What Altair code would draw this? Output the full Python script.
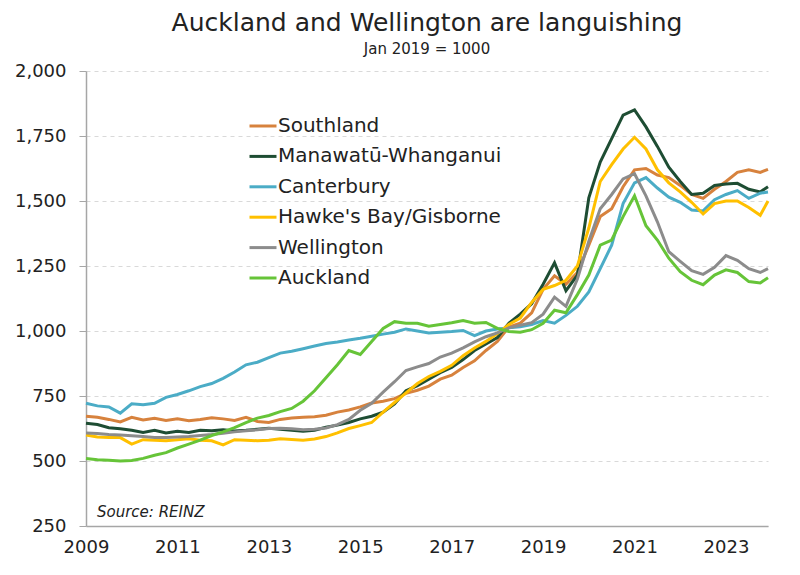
import altair as alt
import pandas as pd

# x positions (decimal years on the chart's axis), quarterly
t = [2009 + 0.25 * i for i in range(60)] + [2023.92]

southland = [672, 668, 660, 650, 668, 658, 664, 656, 662, 655, 660, 666, 662, 656, 668, 652,
             648, 660, 665, 668, 670, 676, 688, 696, 708, 723, 730, 740, 760, 772, 788, 815,
             830, 860, 885, 925, 960, 1015, 1030, 1070, 1160, 1212, 1180, 1225, 1330, 1440, 1470, 1555,
             1620, 1625, 1600, 1590, 1560, 1525, 1510, 1545, 1575, 1610, 1620, 1610, 1622]
manawatu = [645, 640, 628, 624, 618, 610, 618, 608, 614, 610, 618, 616, 620, 615, 618, 622,
            626, 622, 618, 614, 618, 630, 638, 648, 662, 672, 688, 720, 770, 790, 815, 840,
            860, 890, 925, 950, 975, 1030, 1065, 1105, 1180, 1262, 1155, 1215, 1512, 1650, 1740, 1830,
            1850, 1785, 1710, 1630, 1575, 1525, 1530, 1560, 1565, 1568, 1545, 1535, 1555]
canterbury = [722, 712, 708, 684, 720, 716, 722, 745, 756, 770, 786, 798, 818, 842, 870, 880,
              898, 915, 922, 932, 942, 952, 958, 965, 972, 980, 988, 995, 1008, 1000, 992, 995,
              998, 1002, 982, 1000, 1008, 1012, 1016, 1025, 1040, 1030, 1060, 1095, 1150, 1240, 1330, 1490,
              1570, 1590, 1550, 1515, 1495, 1465, 1462, 1505, 1525, 1540, 1510, 1530, 1535]
hawkes_bay = [600, 592, 590, 590, 565, 582, 580, 578, 582, 586, 580, 578, 562, 582, 580, 578,
              580, 586, 583, 580, 585, 594, 608, 625, 636, 648, 688, 725, 762, 798, 825, 845,
              868, 905, 935, 960, 990, 1025, 1050, 1110, 1160, 1175, 1195, 1250, 1396, 1575, 1640, 1700,
              1745, 1700, 1620, 1570, 1535, 1495, 1450, 1490, 1500, 1500, 1475, 1445, 1500]
wellington = [608, 606, 602, 600, 597, 594, 590, 590, 592, 594, 598, 602, 607, 612, 616, 620,
              625, 626, 624, 620, 622, 627, 640, 660, 695, 722, 765, 805, 848, 862, 875, 900,
              915, 935, 958, 978, 993, 1012, 1022, 1032, 1065, 1130, 1095, 1200, 1345, 1470, 1525, 1585,
              1605, 1520, 1420, 1305, 1268, 1232, 1218, 1245, 1290, 1272, 1240, 1225, 1240]
auckland = [510, 505, 503, 500, 502, 510, 522, 532, 550, 565, 580, 598, 612, 628, 648, 665,
            675, 690, 702, 730, 770, 820, 870, 925, 910, 960, 1010, 1036, 1030, 1030, 1018, 1025,
            1032, 1040, 1030, 1033, 1010, 998, 995, 1005, 1030, 1080, 1070, 1140, 1215, 1330, 1350, 1440,
            1520, 1405, 1350, 1280, 1228, 1195, 1178, 1215, 1235, 1225, 1190, 1185, 1205]

names = ["Southland", "Manawatū-Whanganui", "Canterbury", "Hawke's Bay/Gisborne", "Wellington", "Auckland"]
colors = ["#D7823D", "#1E4D33", "#4BACC6", "#FFC000", "#8C8C8C", "#66C438"]
series = [southland, manawatu, canterbury, hawkes_bay, wellington, auckland]

y_ticks = [250, 500, 750, 1000, 1250, 1500, 1750, 2000]
x_ticks = [2009, 2011, 2013, 2015, 2017, 2019, 2021, 2023]

rows = []
for name, vals in zip(names, series):
    for ti, v in zip(t, vals):
        rows.append({"t": ti, "value": v, "region": name, "order": names.index(name)})
df = pd.DataFrame(rows)

FONT = "DejaVu Sans"

lines = alt.Chart(df).mark_line(strokeWidth=3).encode(
    x=alt.X("t:Q", scale=alt.Scale(domain=[2009, 2023.92], nice=False, zero=False),
            axis=alt.Axis(values=x_ticks, format="d", title=None, ticks=False, grid=False,
                          labelFontSize=18, labelPadding=12, labelColor="#222222", labelFlush=False,
                          domainColor="#A6A6A6", domainWidth=1.5, labelFont=FONT)),
    y=alt.Y("value:Q", scale=alt.Scale(domain=[250, 2000], nice=False, zero=False),
            axis=alt.Axis(values=y_ticks, format=",.0f", title=None, tickSize=7, tickColor="#A6A6A6",
                          labelFontSize=18, labelPadding=13, labelColor="#222222",
                          domainColor="#A6A6A6", domainWidth=1.5, labelFont=FONT, labelFlush=False,
                          grid=True, gridDash=[4, 4], gridColor="#D9D9D9", gridWidth=1)),
    color=alt.Color("region:N", scale=alt.Scale(domain=names, range=colors),
                    legend=alt.Legend(title=None, orient="none", legendX=162, legendY=40,
                                      symbolType="stroke", symbolSize=729, symbolStrokeWidth=3,
                                      labelFontSize=20, labelFont=FONT, labelColor="#222222",
                                      labelOffset=0, rowPadding=5.4, labelLimit=400)),
    order=alt.Order("order:Q"),
)

source = alt.Chart(pd.DataFrame({"label": ["Source:  REINZ"]})).mark_text(
    align="left", baseline="middle", fontStyle="italic", fontSize=15, font=FONT, color="#222222"
).encode(x=alt.value(11), y=alt.value(441), text="label:N")

chart = alt.layer(lines, source).properties(
    width=682, height=455,
    autosize=alt.AutoSizeParams(type="none"),
    padding={"left": 78, "top": 63, "right": 20, "bottom": 40},
    title=alt.TitleParams(text="Auckland and Wellington are languishing", subtitle="Jan 2019 = 1000",
                          anchor="middle", frame="group", fontSize=25, subtitleFontSize=15,
                          font=FONT, subtitleFont=FONT, fontWeight="normal",
                          color="#222222", subtitleColor="#222222", offset=5, subtitlePadding=6),
).configure_view(stroke=None)

chart.save("out.html", embed_options={"renderer": "svg", "actions": False})
